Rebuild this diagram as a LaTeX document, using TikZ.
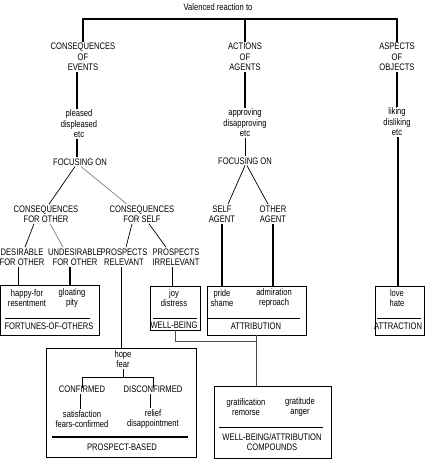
\documentclass[tikz,border=0pt]{standalone}
\usepackage{fontspec}
\setmainfont{Liberation Sans}[FakeStretch=0.8]
\usepackage{tikz}
\newcommand{\occfont}{\fontsize{9.5}{10.5}\selectfont}

\begin{document}
\begin{tikzpicture}[x=1pt, y=-1pt,
    lbl/.style={align=center, inner sep=1pt, font=\occfont},
    grp/.style={draw, line width=0.8pt, inner sep=0pt},
    branch/.style={line width=1.2pt},
    twig/.style={line width=0.7pt}]
    \useasboundingbox (0,0) rectangle (425,461);

    % Top of the tree
    \node[lbl] (title) at (218,7) {Valenced reaction to};
    \node[lbl] (evts) at (83,57) {CONSEQUENCES\\OF\\EVENTS};
    \node[lbl] (acts) at (245,57) {ACTIONS\\OF\\AGENTS};
    \node[lbl] (objs) at (397,57) {ASPECTS\\OF\\OBJECTS};
    \coordinate (top) at (0,19);
    \draw[branch] (evts.north) -- (evts.north |- top) -- (objs.north |- top) -- (objs.north); % Top bar
    \draw[branch] (acts.north |- top) -- (acts.north);

    % Events branch
    \node[lbl] (pd) at (79,124) {pleased\\displeased\\etc};
    \node[lbl] (fe) at (80,162) {FOCUSING ON};
    \node[lbl] (cfo) at (46,214) {CONSEQUENCES\\FOR OTHER};
    \node[lbl] (cfs) at (142,214) {CONSEQUENCES\\FOR SELF};
    \node[lbl] (dfo) at (22,257) {DESIRABLE\\FOR OTHER};
    \node[lbl] (ufo) at (75,257) {UNDESIRABLE\\FOR OTHER};
    \node[lbl] (pr) at (124,257) {PROSPECTS\\RELEVANT};
    \node[lbl] (pi) at (176,257) {PROSPECTS\\IRRELEVANT};
    \draw[branch] (evts.south -| 77,0) -- (pd.north -| 77,0);
    \draw[branch] (pd.south -| 77,0) -- (fe.north -| 77,0);
    \draw[twig] ([xshift=-5pt]fe.south) -- ([xshift=3pt]cfo.north);
    \draw[twig, gray] ([xshift=1pt]fe.south) -- ([xshift=-15pt]cfs.north);
    \draw[twig] ([xshift=-12pt]cfo.south) -- ([xshift=3pt]dfo.north);
    \draw[twig, gray] ([xshift=4pt]cfo.south) -- ([xshift=-12pt]ufo.north);
    \draw[twig] ([xshift=-10pt]cfs.south) -- ([xshift=2pt]pr.north);
    \draw[twig] ([xshift=7pt]cfs.south) -- ([xshift=-10pt]pi.north);

    % Agents branch
    \node[lbl] (ad) at (245,123) {approving\\disapproving\\etc};
    \node[lbl] (fa) at (245,161) {FOCUSING ON};
    \node[lbl] (sa) at (222,214) {SELF\\AGENT};
    \node[lbl] (oa) at (273,214) {OTHER\\AGENT};
    \draw[branch] (acts.south) -- (ad.north);
    \draw[twig] (ad.south) -- (fa.north);
    \draw[twig] (fa.south) -- ([xshift=6pt]sa.north);
    \draw[twig] ([xshift=2pt]fa.south) -- ([xshift=-5pt]oa.north);

    % Objects branch
    \node[lbl] (ld) at (397,122) {liking\\disliking\\etc};
    \draw[branch] (objs.south) -- (ld.north);

    % Emotion groups
    \node[grp, minimum width=99pt, minimum height=50pt] (fort) at (49.5,310) {};
    \node[grp, minimum width=50pt, minimum height=44pt] (wb) at (175,308) {};
    \node[grp, minimum width=99pt, minimum height=49pt] (attr) at (256.5,310.5) {};
    \node[grp, minimum width=49pt, minimum height=49pt] (attc) at (399.5,310.5) {};
    \node[grp, minimum width=150pt, minimum height=109pt] (pb) at (121,402.5) {};
    \node[grp, minimum width=117pt, minimum height=72pt] (comp) at (272.5,422) {};

    \node[lbl] (hf) at (27,298) {happy-for\\resentment};
    \node[lbl] (gp) at (72,298) {gloating\\pity};
    \node[lbl] (fortl) at (49,326) {FORTUNES-OF-OTHERS};
    \draw[twig] (5,318) -- (90,318);

    \node[lbl] (jd) at (174,298) {joy\\distress};
    \node[lbl] (wbl) at (174,325) {WELL-BEING};
    \draw[twig] (153,318) -- (197,318);

    \node[lbl] (ps) at (222,298) {pride\\shame};
    \node[lbl] (ar) at (274,298) {admiration\\reproach};
    \node[lbl] (attrl) at (256,326) {ATTRIBUTION};
    \draw[twig] (208,318) -- (300,318);

    \node[lbl] (lh) at (397,298) {love\\hate};
    \node[lbl] (attcl) at (398,326) {ATTRACTION};
    \draw[twig] (377,318) -- (421,318);

    \node[lbl] (hfr) at (123,359) {hope\\fear};
    \node[lbl] (conf) at (82,389) {CONFIRMED};
    \node[lbl] (disc) at (153,389) {DISCONFIRMED};
    \node[lbl] (sfc) at (82,419) {satisfaction\\fears-confirmed};
    \node[lbl] (rd) at (153,419) {relief\\disappointment};
    \node[lbl] (pbl) at (122,447) {PROSPECT-BASED};
    \coordinate (brk) at (0,377);
    \draw[twig] (hfr.south) -- (hfr.south |- brk); % Bracket
    \draw[twig] ([yshift=-4pt]conf.north) -- (conf.north |- brk) -- (disc.north |- brk) -- ([yshift=-4pt]disc.north);
    \draw[twig] (conf.south -| 80,0) -- (sfc.north -| 80,0);
    \draw[twig] (disc.south -| 150,0) -- (rd.north -| 150,0);
    \draw[line width=1.2pt] (52,437) -- (188,437);

    \node[lbl] (gr) at (246,407) {gratification\\remorse};
    \node[lbl] (ga) at (300,407) {gratitude\\anger};
    \node[lbl] (compl) at (272,442) {WELL-BEING/ATTRIBUTION\\COMPOUNDS};
    \draw[twig] (219,427) -- (323,427);

    % Links down to the groups
    \draw[twig] (dfo.south -| 18,0) -- (fort.north -| 18,0);
    \draw[branch] (ufo.south -| 70,0) -- (fort.north -| 70,0);
    \draw[twig] (pr.south -| 121,0) -- (pb.north -| 121,0);
    \draw[twig] (pi.south -| 172,0) -- (wb.north -| 172,0);
    \draw[branch] (sa.south) -- (sa.south |- attr.north);
    \draw[branch] (oa.south) -- (oa.south |- attr.north);
    \draw[branch] (ld.south -| 398,0) -- (attc.north -| 398,0);

    % Compounds
    \coordinate (join) at (256,341);
    \draw[twig, black!70] (wb.south) |- (join);
    \draw[twig, black!70] (join |- attr.south) -- (join |- comp.north);
\end{tikzpicture}
\end{document}
